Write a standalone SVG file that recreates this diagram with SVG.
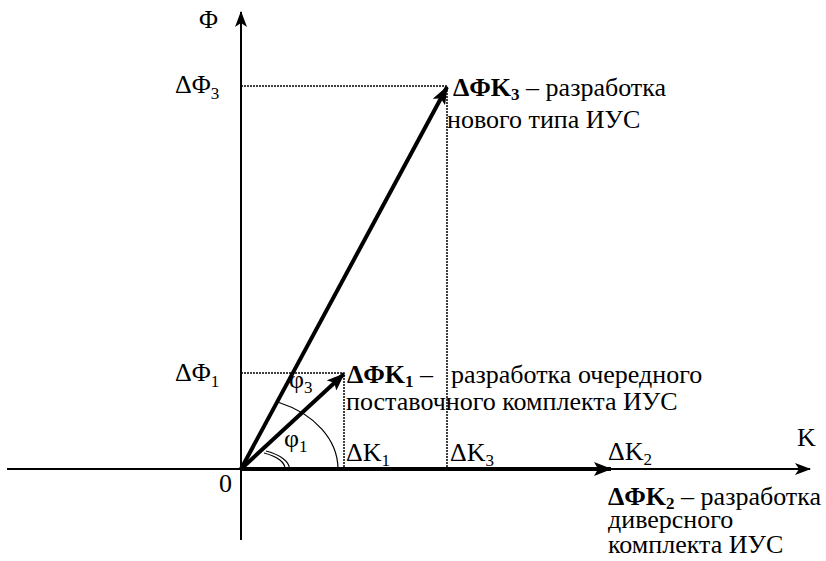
<svg xmlns="http://www.w3.org/2000/svg" width="826" height="561" viewBox="0 0 826 561">
<style>
text{font-family:'Liberation Serif','Times New Roman','DejaVu Serif',serif;font-size:26px;fill:#000}
.b{font-weight:bold}
.sub{font-size:17px}
.axis{stroke:#000;stroke-width:2;fill:none}
.vec{stroke:#000;stroke-width:4;fill:none}
.dot{stroke:#000;stroke-width:1.5;stroke-dasharray:2 1;fill:none}
.arc{stroke:#000;stroke-width:1.2;fill:none}
</style>
<defs>
<marker id="ah" markerWidth="16" markerHeight="12" refX="15" refY="6" orient="auto" markerUnits="userSpaceOnUse">
<path d="M0,0 L16,6 L0,12 L4,6 Z" fill="#000"/>
</marker>
<marker id="av" markerWidth="18" markerHeight="14" refX="17" refY="7" orient="auto" markerUnits="userSpaceOnUse">
<path d="M0,0 L18,7 L0,14 L4,7 Z" fill="#000"/>
</marker>
</defs>
<g id="axes">
<line class="axis" x1="7" y1="469" x2="810" y2="469" marker-end="url(#ah)"/>
<line class="axis" x1="241" y1="540" x2="241" y2="12" marker-end="url(#ah)"/>
</g>
<g id="connectors">
<polyline class="dot" points="241,86 447,86 447,469"/>
<polyline class="dot" points="241,373 344,373 344,469"/>
<line class="vec" x1="241" y1="469" x2="447" y2="87" marker-end="url(#av)"/>
<line class="vec" x1="241" y1="469" x2="344" y2="374" marker-end="url(#av)"/>
<line class="vec" x1="241" y1="469" x2="611" y2="469" marker-end="url(#av)"/>
<path class="arc" d="M279,402.5 A97,72.5 0 0 1 338,469"/>
<path class="arc" d="M266,451 A48.5,21 0 0 1 289.5,469"/>
<path class="arc" d="M264,453 A44,18.5 0 0 1 285,469"/>
</g>
<g id="labels">
<text x="199" y="28">Φ</text>
<text x="175" y="93">ΔΦ<tspan class="sub" dy="6">3</tspan></text>
<text x="175" y="381">ΔΦ<tspan class="sub" dy="6">1</tspan></text>
<text x="219" y="492">0</text>
<text x="797" y="446">K</text>
<text x="289" y="388">φ<tspan class="sub" dy="5">3</tspan></text>
<text x="284" y="447">φ<tspan class="sub" dy="5">1</tspan></text>
<text x="346" y="461">ΔK<tspan class="sub" dy="5">1</tspan></text>
<text x="450" y="461">ΔK<tspan class="sub" dy="5">3</tspan></text>
<text x="608" y="460">ΔK<tspan class="sub" dy="5">2</tspan></text>
</g>
<g id="node-k3">
<text x="453" y="96"><tspan class="b">ΔΦK</tspan><tspan class="b sub" dy="4">3</tspan><tspan dy="-4"> – разработка</tspan></text>
<text x="447" y="128">нового типа ИУС</text>
</g>
<g id="node-k1">
<text x="347" y="383"><tspan class="b">ΔΦK</tspan><tspan class="b sub" dy="4">1</tspan><tspan dy="-4"> –</tspan></text>
<text x="451" y="383">разработка очередного</text>
<text x="346" y="410">поставочного комплекта ИУС</text>
</g>
<g id="node-k2">
<text x="608" y="505"><tspan class="b">ΔΦK</tspan><tspan class="b sub" dy="4">2</tspan><tspan dy="-4"> – разработка</tspan></text>
<text x="608" y="528">диверсного</text>
<text x="608" y="553">комплекта ИУС</text>
</g>
</svg>
